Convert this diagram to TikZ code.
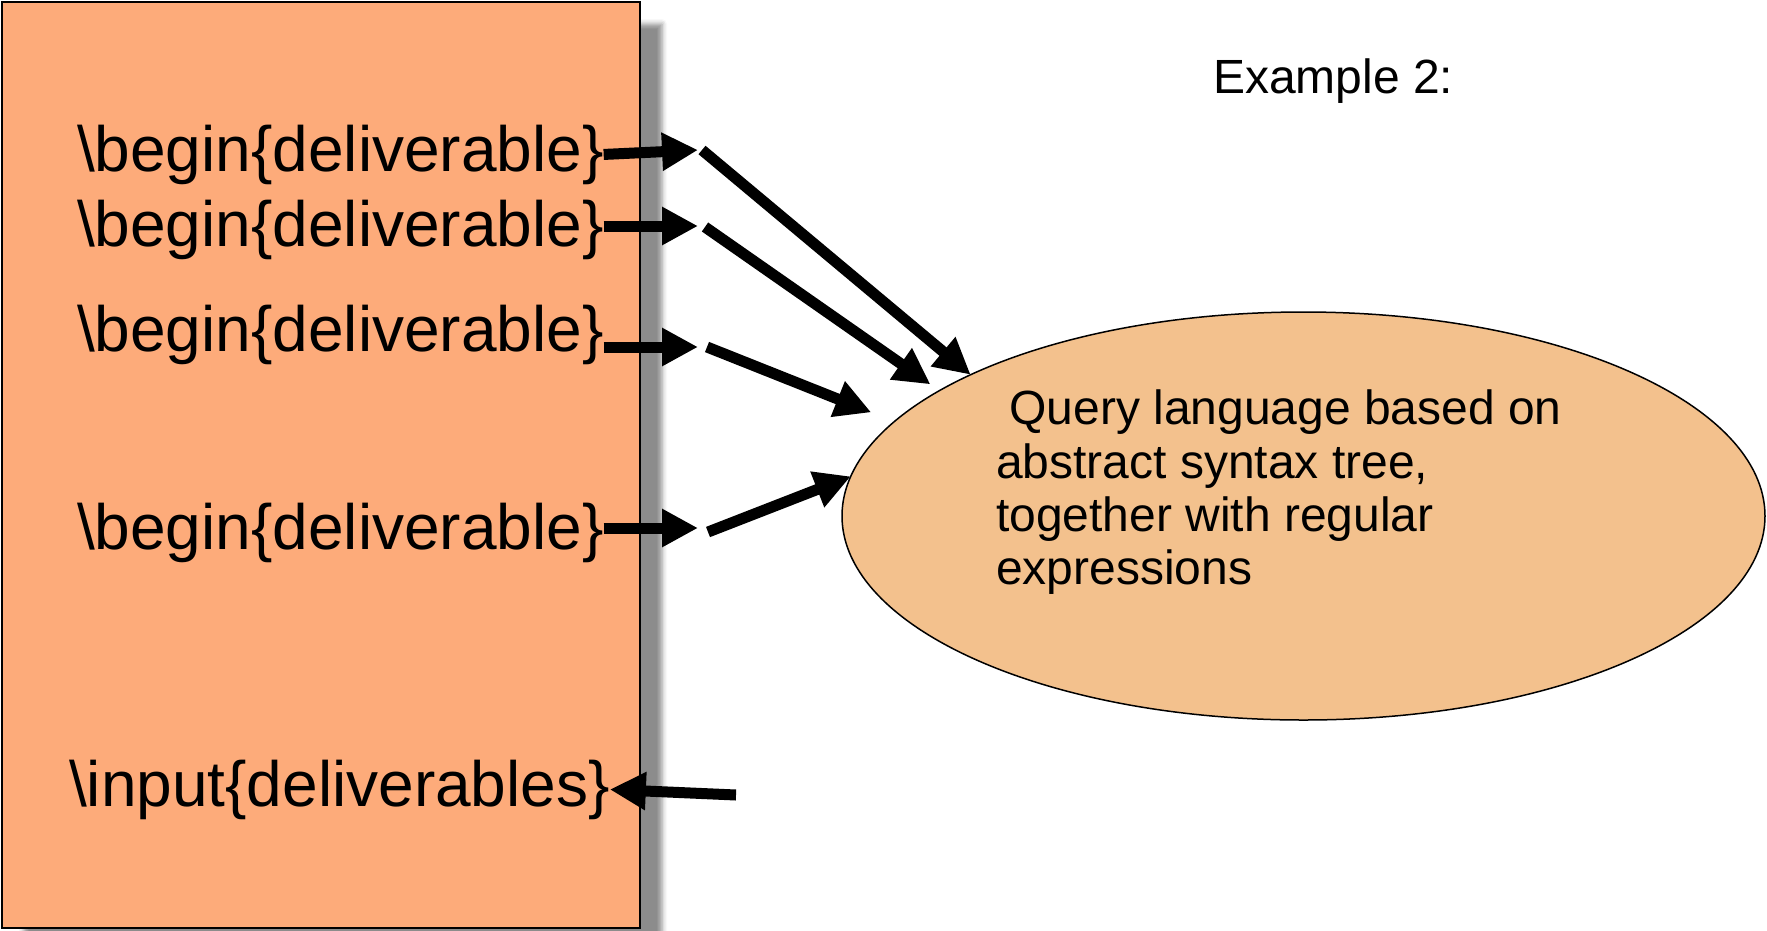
\documentclass[tikz,border=0pt]{standalone}
\usepackage{fontspec}
\setmainfont{Liberation Sans}
\usetikzlibrary{arrows.meta,shapes.geometric,shadows.blur}
\definecolor{filebox}{RGB}{253,171,122}
\definecolor{queryfill}{RGB}{243,193,141}
\begin{document}
\begin{tikzpicture}[x=1pt,y=-1pt,
  bigtext/.style={font=\fontsize{64}{70}\selectfont, inner sep=0pt, outer sep=0pt, anchor=base west},
  smalltext/.style={font=\fontsize{48}{53.3}\selectfont, inner sep=0pt, outer sep=0pt},
  fat arrow/.style={line width=11pt, -{Triangle[length=36pt,width=36pt]}},
]
\useasboundingbox (0,0) rectangle (1767,930);

% the document body, with its drop shadow
\node[draw, line width=2pt, fill=filebox, anchor=north west,
      minimum width=638pt, minimum height=926pt, inner sep=0pt, outer sep=0pt,
      blur shadow={shadow xshift=22pt, shadow yshift=-22pt,
                   shadow blur radius=5pt, shadow opacity=45}] (file) at (2,2) {};

% lines of the document
\node[bigtext] (b1) at (77,171) {\textbackslash begin\{deliverable\}};
\node[bigtext] (b2) at (77,246) {\textbackslash begin\{deliverable\}};
\node[bigtext] (b3) at (77,351) {\textbackslash begin\{deliverable\}};
\node[bigtext] (b4) at (77,549) {\textbackslash begin\{deliverable\}};
\node[bigtext] (inp) at (69,806) {\textbackslash input\{deliverables\}};

% caption
\node[smalltext, anchor=base west] (ex) at (1213,93) {Example 2:};

% the query language
\node[ellipse, draw, line width=1.5pt, fill=queryfill,
      minimum width=923pt, minimum height=408pt, inner sep=0pt, outer sep=0pt] (q) at (1303.5,516) {};
\node[smalltext, anchor=north west, align=left] (qt) at (996,390)
  {\ Query language based on\\abstract syntax tree,\\together with regular\\expressions};

% short arrows leaving each deliverable
\coordinate (t1) at (698,150);
\coordinate (t2) at (698,226);
\coordinate (t3) at (698,347);
\coordinate (t4) at (698,528);
\draw[fat arrow] (b1.east) -- (t1);
\draw[fat arrow] (b2.east |- t2) -- (t2);
\draw[fat arrow] (b3.east |- t3) -- (t3);
\draw[fat arrow] (b4.east |- t4) -- (t4);

% long arrows into the query language
\coordinate (d1) at (702,150);
\coordinate (d2) at (705,227);
\coordinate (d3) at (707,347);
\coordinate (d4) at (708,532);
\draw[fat arrow] (d1) -- (q.157.2);
\draw[fat arrow, shorten >=11pt] (d2) -- (q.161.2);
\draw[fat arrow, shorten >=25pt] (d3) -- (q.167.3);
\draw[fat arrow] (d4) -- (q.175.2);

% arrow back into \input
\coordinate (src) at (736,795);
\draw[fat arrow] (src) -- (inp.east);
\end{tikzpicture}
\end{document}
